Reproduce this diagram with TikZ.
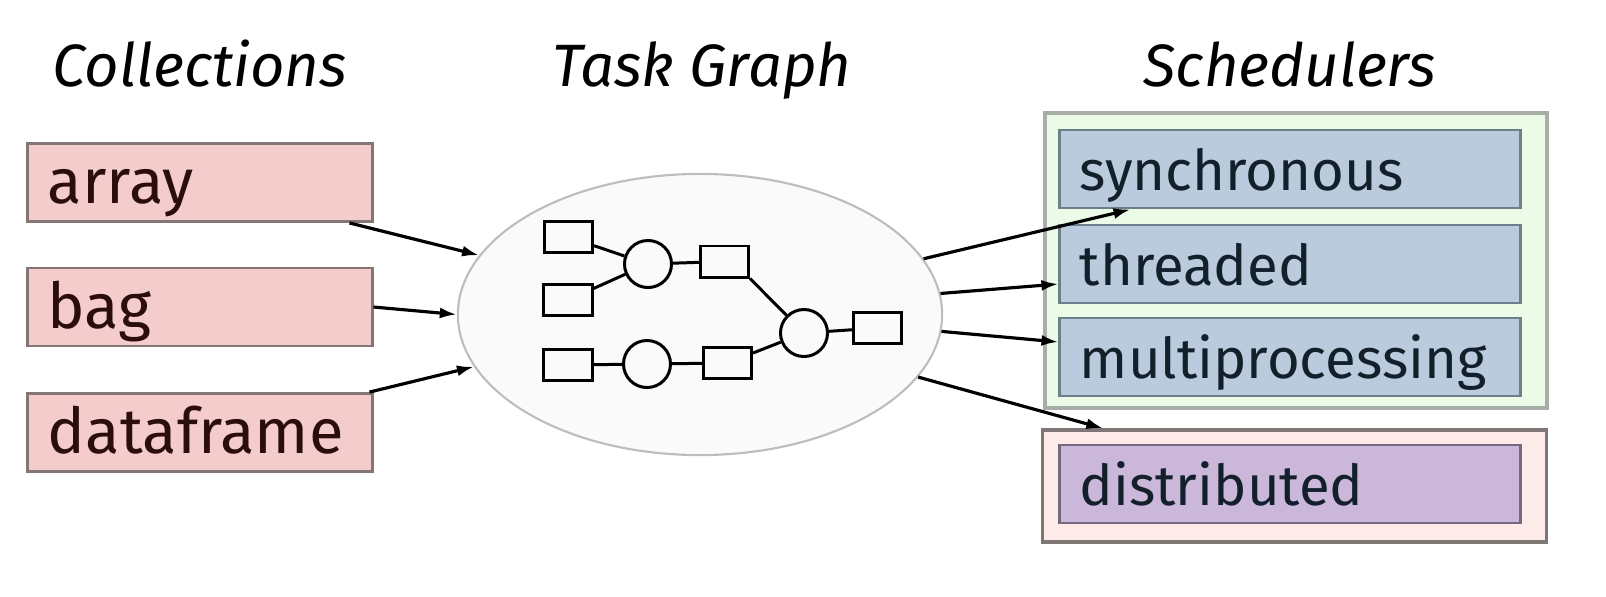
\documentclass[tikz,border=0pt]{standalone}
\usepackage{fontspec}
\setmainfont{Fira Sans}
\usetikzlibrary{shapes.geometric,arrows.meta}

\definecolor{colfill}{HTML}{F4CCCC}
\definecolor{colline}{HTML}{857676}
\definecolor{coltext}{HTML}{2B0D0D}
\definecolor{schfill}{HTML}{B9CBDD}
\definecolor{schline}{HTML}{6E7F8C}
\definecolor{schtext}{HTML}{13202B}
\definecolor{grpfill}{HTML}{ECFAE8}
\definecolor{grpline}{HTML}{A6AEA6}
\definecolor{dgrpfill}{HTML}{FCEBE9}
\definecolor{dgrpline}{HTML}{7F7676}
\definecolor{distfill}{HTML}{CAB7DA}
\definecolor{distline}{HTML}{76687E}
\definecolor{tgfill}{HTML}{FAFAFA}
\definecolor{tgline}{HTML}{BDBDBD}

\begin{document}
\begin{tikzpicture}[x=0.01cm,y=-0.01cm,
    title/.style={anchor=base, font=\itshape\fontsize{17}{19}\selectfont},
    box/.style={line width=0.8pt, inner xsep=0.2cm, inner ysep=0pt,
        minimum height=0.78cm, text height=0.58cm, text depth=0.16cm,
        align=left, font=\fontsize{18}{20}\selectfont},
    colbox/.style={box, draw=colline, fill=colfill, text=coltext,
        minimum width=3.44cm, text width=3.04cm},
    schbox/.style={box, draw=schline, fill=schfill, text=schtext,
        minimum width=4.6cm, text width=4.2cm, font=\fontsize{16}{18}\selectfont,
        text height=0.56cm, text depth=0.14cm},
    op/.style={draw, line width=0.85pt, minimum width=0.48cm,
        minimum height=0.31cm, inner sep=0pt},
    fn/.style={draw, circle, line width=0.85pt, minimum size=0.47cm, inner sep=0pt},
    link/.style={line width=0.85pt},
    flow/.style={line width=0.9pt, -{Latex[length=0.17cm,width=0.11cm]}}
]
    \useasboundingbox (0,0) rectangle (1606,596);

    % titles
    \node[title] (tcol) at (200,86) {Collections};
    \node[title] (ttg) at (702,86) {Task Graph};
    \node[title] (tsch) at (1290,86) {Schedulers};

    % collections
    \node[colbox] (arr) at (200,182.5) {array};
    \node[colbox] (bag) at (200,307) {bag};
    \node[colbox] (dfr) at (200,432.5) {dataframe};

    % task graph
    \node[ellipse, draw=tgline, fill=tgfill, line width=0.6pt,
        minimum width=4.84cm, minimum height=2.81cm, inner sep=0pt] (tg) at (700,314.5) {};
    \node[op] (in1) at (568.5,237) {};
    \node[op] (in2) at (568,300) {};
    \node[op] (in3) at (568,365) {};
    \node[fn] (f1) at (648,264) {};
    \node[fn] (f2) at (647,364) {};
    \node[op] (mid1) at (724.5,261.5) {};
    \node[op] (mid2) at (727.5,363) {};
    \node[fn] (f3) at (804,333) {};
    \node[op] (out) at (877.5,328) {};
    \foreach \a/\b in {in1/f1, in2/f1, f1/mid1, in3/f2, f2/mid2,
                       mid1.south east/f3, mid2/f3, f3/out}
        \draw[link] (\a) -- (\b);

    % schedulers
    \node[draw=grpline, fill=grpfill, line width=1pt, minimum width=5.02cm,
        minimum height=2.95cm, inner sep=0pt] (grp) at (1296,260.5) {};
    \node[draw=dgrpline, fill=dgrpfill, line width=0.9pt, minimum width=5.03cm,
        minimum height=1.12cm, inner sep=0pt] (dgrp) at (1294.5,486) {};
    \node[schbox] (sync) at (1290,169) {synchronous};
    \node[schbox] (thr) at (1290,264) {threaded};
    \node[schbox] (mproc) at (1290,357) {multiprocessing};
    \node[schbox, draw=distline, fill=distfill] (dist) at (1290,484) {distributed};

    % arrows
    \draw[flow] ([xshift=-0.24cm]arr.south east) -- (tg.165);
    \draw[flow] (bag.east) -- (tg.west);
    \draw[flow] ([xshift=-0.04cm]dfr.north east) -- (tg.193);
    \draw[flow] (tg.14) -- ([xshift=0.72cm]sync.south west);
    \draw[flow] (tg.5) -- ([yshift=-0.2cm]thr.west);
    \draw[flow] (tg.-4) -- ([yshift=0.15cm]mproc.west);
    \draw[flow] (tg.-16) -- ([xshift=0.62cm]dgrp.north west);
\end{tikzpicture}
\end{document}
